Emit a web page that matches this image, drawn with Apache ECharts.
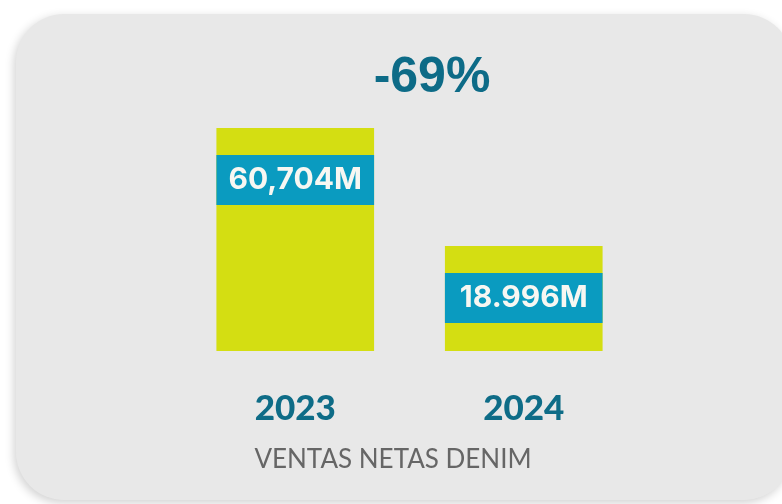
<!DOCTYPE html>
<html>
<head>
<meta charset="utf-8">
<script src="https://cdn.jsdelivr.net/npm/echarts@6/dist/echarts.min.js"></script>
<style>
  html, body { margin: 0; padding: 0; background: #fff; }
  #chart { width: 782px; height: 504px; }
</style>
</head>
<body>
<div id="chart"></div>
<script>
// data
const years = ['2023', '2024'];
const sales = [60.704, 18.996];
const salesLabels = ['60,704M', '18.996M'];
const changeText = '-69%';
const footerText = 'VENTAS NETAS DENIM';

// the bars are not drawn from zero in the picture
const yMin = -18.1;

const chart = echarts.init(document.getElementById('chart'));

function renderItem(params, api) {
  const i = api.value(0);
  const v = api.value(1);
  const top = api.coord([i, v]);
  const base = api.coord([i, yMin]);
  const w = api.size([1, 0])[0] * 0.69;
  const x = top[0] - w / 2;
  return {
    type: 'group',
    children: [
      {
        type: 'rect',
        shape: { x: x, y: top[1], width: w, height: base[1] - top[1] },
        style: { fill: '#d4de12' }
      },
      {
        type: 'rect',
        shape: { x: x, y: top[1] + 27, width: w, height: 50 },
        style: { fill: '#0a9bc0' }
      },
      {
        type: 'text',
        x: top[0],
        y: top[1] + 52,
        style: {
          text: salesLabels[params.dataIndex],
          fill: '#f7f7f2',
          fontFamily: 'Inter',
          fontWeight: 700,
          fontSize: 30,
          align: 'center',
          verticalAlign: 'middle'
        }
      }
    ]
  };
}

chart.setOption({
  backgroundColor: '#fff',
  animation: false,
  graphic: [
    {
      type: 'rect',
      z: -10,
      shape: { x: 16, y: 14, width: 776, height: 486, r: 48 },
      style: {
        fill: '#e8e8e8',
        shadowBlur: 10,
        shadowOffsetX: -2,
        shadowOffsetY: 3,
        shadowColor: 'rgba(0,0,0,0.18)'
      }
    },
    {
      type: 'text',
      x: 432,
      y: 78,
      style: {
        text: changeText,
        fill: '#0d6b87',
        fontFamily: 'Liberation Sans',
        fontWeight: 'bold',
        fontSize: 50,
        align: 'center',
        verticalAlign: 'middle'
      }
    },
    {
      type: 'text',
      x: 393,
      y: 460,
      style: {
        text: footerText,
        fill: '#666',
        fontFamily: 'Lato',
        fontSize: 26,
        align: 'center',
        verticalAlign: 'middle'
      }
    }
  ],
  grid: { left: 181, width: 457, top: 128, bottom: 153 },
  xAxis: {
    type: 'category',
    data: years,
    axisLine: { show: false },
    axisTick: { show: false },
    axisLabel: {
      margin: 40,
      color: '#0e6c87',
      fontFamily: 'Lato',
      fontWeight: 900,
      fontSize: 35
    }
  },
  yAxis: {
    type: 'value',
    min: yMin,
    max: 60.704,
    show: false,
    splitLine: { show: false }
  },
  series: [{
    type: 'custom',
    renderItem: renderItem,
    data: sales.map((v, i) => [i, v])
  }]
});
</script>
</body>
</html>
